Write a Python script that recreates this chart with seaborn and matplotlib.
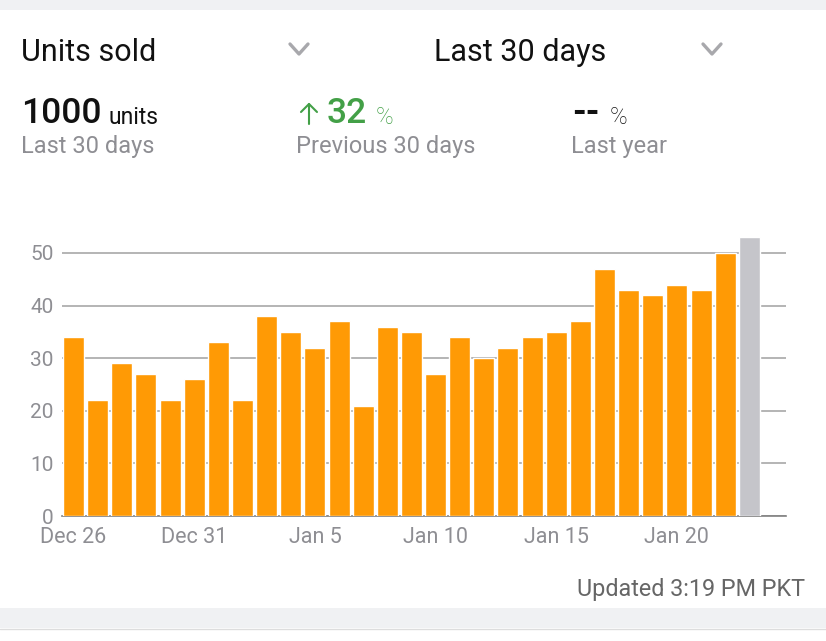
#!/usr/bin/env python3
"""Units sold card: daily bars for the last 30 days with header stats."""
import matplotlib
matplotlib.use("Agg")
import matplotlib.pyplot as plt
from matplotlib.lines import Line2D
from matplotlib.patches import Rectangle
import pandas as pd
import seaborn as sns

days = ["Dec 26", "Dec 27", "Dec 28", "Dec 29", "Dec 30", "Dec 31", "Jan 1", "Jan 2",
        "Jan 3", "Jan 4", "Jan 5", "Jan 6", "Jan 7", "Jan 8", "Jan 9", "Jan 10",
        "Jan 11", "Jan 12", "Jan 13", "Jan 14", "Jan 15", "Jan 16", "Jan 17", "Jan 18",
        "Jan 19", "Jan 20", "Jan 21", "Jan 22", "Jan 23"]
units = [34, 22, 29, 27, 22, 26, 33, 22, 38, 35, 32, 37, 21, 36, 35, 27, 34, 30, 32,
         34, 35, 37, 47, 43, 42, 44, 43, 50, 53]
pending = [False] * 28 + [True]
y_ticks = [0, 10, 20, 30, 40, 50]
x_tick_days = ["Dec 26", "Dec 31", "Jan 5", "Jan 10", "Jan 15", "Jan 20"]

W, H = 826, 641
ORANGE = "#ff9a05"
PENDING = "#c5c5ca"
GRID = "#a0a0a0"
MUTED = "#8e8e93"
GREEN = "#43a047"
BAND = "#f0f1f3"

sns.set_theme(style="white")
plt.rcParams["font.family"] = ["Roboto", "DejaVu Sans"]

fig = plt.figure(figsize=(W / 100, H / 100), dpi=100, facecolor="white")


def px_text(x, y, s, size, color="black", **kw):
    # y is the text baseline in image pixels
    return fig.text(x / W, 1 - y / H, s, fontsize=size, color=color, va="baseline", **kw)


def px_line(xs, ys, color, lw):
    fig.add_artist(Line2D([x / W for x in xs], [1 - y / H for y in ys], color=color, lw=lw))


# grey bands of the surrounding screen
for top, bottom in [(0, 10), (608, 628)]:
    fig.patches.append(Rectangle((0, 1 - bottom / H), 1, (bottom - top) / H,
                                 transform=fig.transFigure, color=BAND, lw=0))
px_line([0, W], [628.5, 628.5], "#dddddd", 1)

# chevrons on the two selectors
for cx in (299, 712):
    px_line([cx - 9, cx, cx + 9], [44, 54, 44], "#a8a8ac", 2.4)

px_text(21, 61, "Units sold", 22, "#111111")
px_text(434, 61, "Last 30 days", 22, "#111111")

px_text(21, 123, "1000", 25.5, "#111111", fontweight="medium")
px_text(109, 124, "units", 16.5, "#111111")
px_text(21, 153, "Last 30 days", 17, MUTED)

# up arrow next to the change figure
px_line([309, 309], [124, 104], GREEN, 1.5)
px_line([301, 309, 317], [112, 104, 112], GREEN, 1.5)
px_text(327, 123, "32", 25.5, GREEN, fontweight="medium")
px_text(376, 124, "%", 17, GREEN, fontweight="light")
px_text(296, 153, "Previous 30 days", 17, MUTED)

px_text(572, 123, "--", 25.5, "#111111", fontweight="bold")
px_text(610, 124, "%", 17, "#111111", fontweight="light")
px_text(571, 153, "Last year", 17, MUTED)

px_text(805, 596, "Updated 3:19 PM PKT", 16.8, "#666666", ha="right")

# chart area, y=0 at 516 px and y=50 at 253 px
ax = fig.add_axes([62 / W, 1 - 516 / H, (786 - 62) / W, 286 / H])
ax.set_facecolor("none")

df = pd.DataFrame({"day": days, "units": units, "pending": pending})
sns.barplot(data=df, x="day", y="units", hue="pending", palette={False: ORANGE, True: PENDING},
            dodge=False, width=0.87, saturation=1, legend=False, ax=ax, zorder=3)

ax.set_xlim(-0.48, 29.52)
ax.set_ylim(0, 286 / 5.26)
ax.set_yticks(y_ticks)
ax.set_xticks([days.index(d) for d in x_tick_days])
ax.set_xticklabels(x_tick_days)
ax.set_xlabel("")
ax.set_ylabel("")
ax.grid(axis="y", color=GRID, lw=1.1, zorder=0)
ax.set_axisbelow(True)
sns.despine(ax=ax, left=True, top=True, right=True)
ax.spines["bottom"].set_color("#808080")
ax.spines["bottom"].set_linewidth(1.2)
ax.tick_params(axis="y", length=0, pad=6, labelsize=15, labelcolor=MUTED)
ax.tick_params(axis="x", length=0, pad=8, labelsize=15.5, labelcolor=MUTED)

fig.savefig("out.png", dpi=100, facecolor="white")
